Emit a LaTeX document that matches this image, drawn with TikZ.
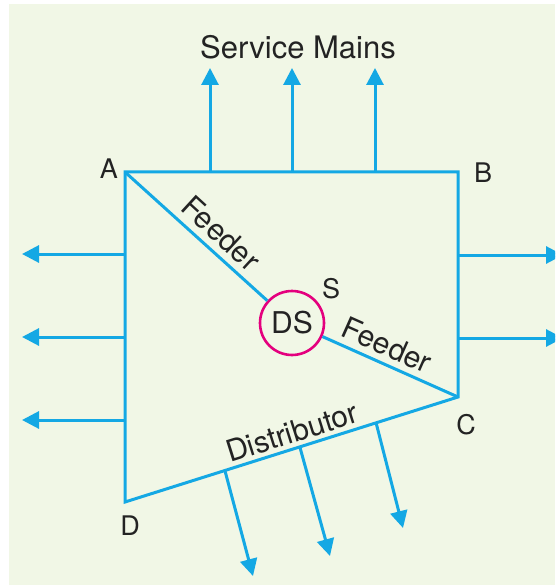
\documentclass[tikz,border=0pt]{standalone}
\usepackage{fontspec}
\setmainfont{TeX Gyre Heros}
\usetikzlibrary{arrows.meta,calc}
\definecolor{bgc}{RGB}{241,247,230}
\definecolor{wire}{RGB}{20,168,228}
\definecolor{ring}{RGB}{228,0,126}
\definecolor{ink}{RGB}{35,35,35}
\tikzset{
  wireline/.style={draw=wire,line width=3pt,line join=miter},
  feedarrow/.style={wireline,-{Triangle[length=17pt,width=17pt]}},
  lbl/.style={text=ink,font=\fontsize{27}{27}\selectfont,inner sep=0pt},
  wordlbl/.style={text=ink,font=\fontsize{30}{30}\selectfont,inner sep=0pt},
  biglbl/.style={text=ink,font=\fontsize{31}{31}\selectfont,inner sep=0pt},
}
\begin{document}
\begin{tikzpicture}[x=1pt,y=-1pt]
\useasboundingbox (0,0) rectangle (555,585);
\clip (0,0) rectangle (555,585);
\fill[white] (0,0) rectangle (555,585);
\fill[bgc] (9,4) rectangle (555,585);
% corners
\coordinate (A) at (125,172);
\coordinate (B) at (458,172);
\coordinate (C) at (458,397);
\coordinate (D) at (125,502);
\node[draw=ring,line width=2.6pt,circle,minimum size=64pt,inner sep=0pt,wordlbl] (DS) at (292,323) {DS};
% frame
\draw[wireline] (D) -- (A) -- (B) -- (C) -- cycle;
% feeders
\draw[wireline] (A) -- (DS);
\draw[wireline] (DS) -- (C);
% service mains top
\foreach \x/\n in {210/t1,292/t2,375/t3}{
  \coordinate (\n s) at (\x,172);
  \coordinate (\n e) at (\x,68);
  \draw[feedarrow] (\n s) -- (\n e);
}
% left
\foreach \y/\n in {254/l1,337/l2,420/l3}{
  \coordinate (\n s) at (125,\y);
  \coordinate (\n e) at (22,\y);
  \draw[feedarrow] (\n s) -- (\n e);
}
% right
\foreach \y/\n in {255/r1,338/r2}{
  \coordinate (\n s) at (458,\y);
  \coordinate (\n e) at (563,\y);
  \draw[feedarrow] (\n s) -- (\n e);
}
% distributor down
\coordinate (d1s) at ($(D)!0.30!(C)$);
\coordinate (d2s) at ($(D)!0.525!(C)$);
\coordinate (d3s) at ($(D)!0.754!(C)$);
\coordinate (d1e) at (253,576);
\coordinate (d2e) at (330,556);
\coordinate (d3e) at (403,528);
\draw[feedarrow] (d1s) -- (d1e);
\draw[feedarrow] (d2s) -- (d2e);
\draw[feedarrow] (d3s) -- (d3e);
% labels
\node[biglbl] (sm) at (298,47) {Service Mains};
\node[lbl] (la) at (109,169) {A};
\node[lbl] (lb) at (483,173) {B};
\node[lbl] (lc) at (466,425) {C};
\node[lbl] (ld) at (130,526) {D};
\node[lbl] (ls) at (331,289) {S};
\node[wordlbl,rotate=-42.5] (f1) at (221,233) {Feeder};
\node[wordlbl,rotate=-24] (f2) at (387,345) {Feeder};
\node[wordlbl,rotate=17.5] (dist) at (292,432) {Distributor};
\end{tikzpicture}
\end{document}
